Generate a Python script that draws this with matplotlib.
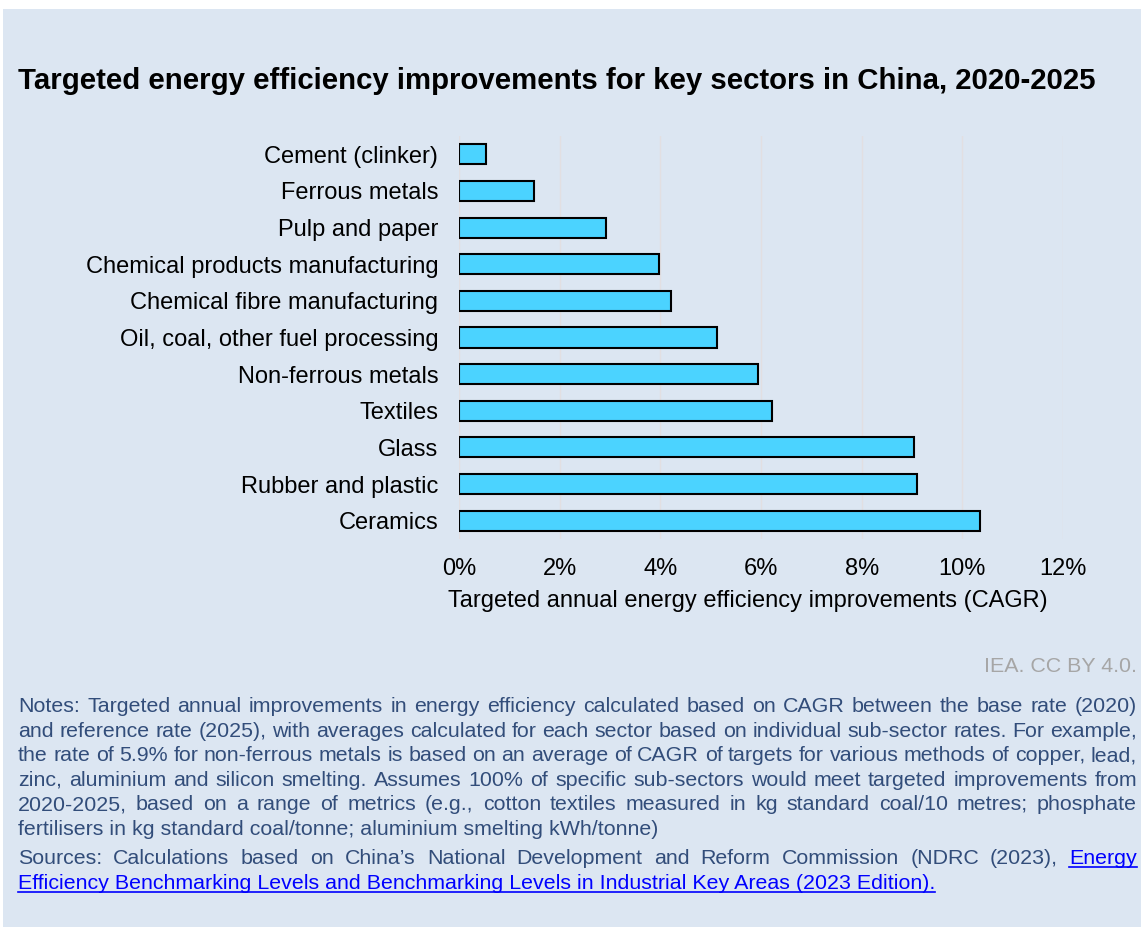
import matplotlib
matplotlib.use("Agg")
import matplotlib.pyplot as plt
from matplotlib.patches import Rectangle
from matplotlib.lines import Line2D
import numpy as np

plt.rcParams["font.family"] = ["Liberation Sans", "DejaVu Sans"]

# ---- data ---------------------------------------------------------------
sectors = [
    "Cement (clinker)",
    "Ferrous metals",
    "Pulp and paper",
    "Chemical products manufacturing",
    "Chemical fibre manufacturing",
    "Oil, coal, other fuel processing",
    "Non-ferrous metals",
    "Textiles",
    "Glass",
    "Rubber and plastic",
    "Ceramics",
]
improvement_pct = [0.53, 1.49, 2.92, 3.97, 4.21, 5.12, 5.94, 6.22, 9.03, 9.10, 10.35]
x_ticks = [0, 2, 4, 6, 8, 10, 12]
x_tick_labels = ["0%", "2%", "4%", "6%", "8%", "10%", "12%"]

title = "Targeted energy efficiency improvements for key sectors in China, 2020-2025"
x_label = "Targeted annual energy efficiency improvements (CAGR)"
credit = "IEA. CC BY 4.0."

notes_lines = [
    "Notes: Targeted annual improvements in energy efficiency calculated based on CAGR between the base rate (2020)",
    "and reference rate (2025), with averages calculated for each sector based on individual sub-sector rates. For example,",
    "the rate of 5.9% for non-ferrous metals is based on an average of CAGR of targets for various methods of copper, lead,",
    "zinc, aluminium and silicon smelting. Assumes 100% of specific sub-sectors would meet targeted improvements from",
    "2020-2025, based on a range of metrics (e.g., cotton textiles measured in kg standard coal/10 metres; phosphate",
    "fertilisers in kg standard coal/tonne; aluminium smelting kWh/tonne)",
]
sources_plain = "Sources: Calculations based on China\u2019s National Development and Reform Commission (NDRC (2023),"
sources_link_1 = "Energy"
sources_link_2 = "Efficiency Benchmarking Levels and Benchmarking Levels in Industrial Key Areas (2023 Edition)."

# ---- styling --------------------------------------------------------------
W, H = 1143, 927
PANEL = "#dce6f2"
BAR = "#4bd3ff"
GRID = "#e2dfe2"
NOTE_COLOR = "#324d7a"
LINK_COLOR = "#0000ff"
CREDIT_COLOR = "#a6a6a6"


def fx(px):
    return px / W


def fy(py):
    return 1 - py / H


fig = plt.figure(figsize=(W / 100, H / 100), dpi=100, facecolor="white")
fig.patches.append(Rectangle((fx(3), 0), fx(1141) - fx(3), fy(9), transform=fig.transFigure,
                             facecolor=PANEL, edgecolor="none", zorder=-10))

# ---- bar chart ----------------------------------------------------------------
ax = fig.add_axes([fx(459), fy(539), fx(1063) - fx(459), (539 - 136) / H])
ax.set_facecolor("none")
y = np.arange(len(sectors))
ax.barh(y, improvement_pct, height=0.55, color=BAR, edgecolor="black", linewidth=1.5, zorder=3)
ax.set_ylim(len(sectors) - 0.5, -0.5)
ax.set_xlim(0, 12)
ax.set_yticks(y)
ax.set_yticklabels(sectors)
ax.set_xticks(x_ticks)
ax.set_xticklabels(x_tick_labels)
ax.tick_params(axis="both", length=0, labelsize=17, colors="black")
ax.tick_params(axis="x", pad=13.5)
ax.tick_params(axis="y", pad=15)
ax.grid(axis="x", color=GRID, linewidth=1, zorder=0)
ax.set_axisbelow(True)
for s in ax.spines.values():
    s.set_visible(False)
ax.set_xlabel(x_label, fontsize=17)
ax.xaxis.set_label_coords((748 - 459) / 604, (539 - 590) / 403)

# ---- title and credit ------------------------------------------------------------
fig.text(fx(18), fy(89), title, fontsize=21.2, fontweight="bold", ha="left", va="baseline")
fig.text(fx(1137), fy(672), credit, fontsize=15.4, color=CREDIT_COLOR, ha="right", va="baseline")

# ---- justified notes -------------------------------------------------------------
NOTE_SIZE = 15.4
X0, X1 = 18, 1137
renderer = fig.canvas.get_renderer()


def text_width(s):
    t = fig.text(0, 0, s, fontsize=NOTE_SIZE)
    w = t.get_window_extent(renderer).width
    t.remove()
    return w


def draw_justified(words, baseline, color):
    widths = [text_width(w) for w in words]
    gap = (X1 - X0 - sum(widths)) / (len(words) - 1)
    x = X0
    spans = []
    for w, wd in zip(words, widths):
        fig.text(fx(x), fy(baseline), w, fontsize=NOTE_SIZE, ha="left", va="baseline", color=color)
        spans.append((x, x + wd))
        x += wd + gap
    return spans


def underline(x_start, x_end, baseline):
    fig.add_artist(Line2D([fx(x_start), fx(x_end)], [fy(baseline + 3), fy(baseline + 3)],
                          transform=fig.transFigure, color=LINK_COLOR, linewidth=1.2))


baseline = 712
step = 24.6
for i, line in enumerate(notes_lines):
    b = baseline + i * step
    if i < len(notes_lines) - 1:
        draw_justified(line.split(), b, NOTE_COLOR)
    else:
        fig.text(fx(X0), fy(b), line, fontsize=NOTE_SIZE, ha="left", va="baseline", color=NOTE_COLOR)

src_base = 864
src_words = sources_plain.split() + [sources_link_1]
spans = draw_justified(src_words, src_base, NOTE_COLOR)
# the last word of the first sources line starts the link
fig.texts[-1].set_color(LINK_COLOR)
underline(spans[-1][0], spans[-1][1], src_base)

link_text = fig.text(fx(X0), fy(src_base + step), sources_link_2, fontsize=NOTE_SIZE,
                     ha="left", va="baseline", color=LINK_COLOR)
lw = link_text.get_window_extent(renderer).width
underline(X0, X0 + lw, src_base + step)

fig.savefig("out.png", dpi=100, facecolor="white")
